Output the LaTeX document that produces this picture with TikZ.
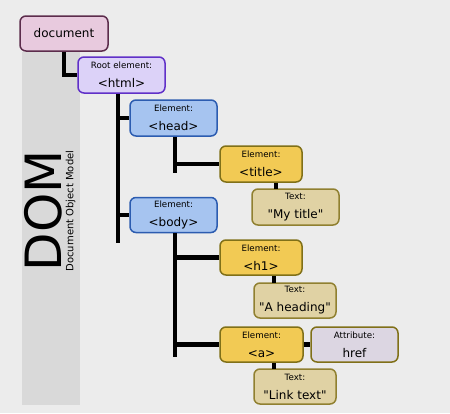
\documentclass[tikz,border=0pt]{standalone}
\usepackage{fontspec}
\setmainfont{DejaVu Sans}
\definecolor{pagebg}{RGB}{236, 236, 236}
\definecolor{bandgray}{RGB}{217, 217, 217}
\definecolor{docpink}{RGB}{232, 202, 222}
\definecolor{docedge}{RGB}{92, 44, 76}
\definecolor{rootlilac}{RGB}{220, 210, 248}
\definecolor{rootedge}{RGB}{96, 48, 200}
\definecolor{elemblue}{RGB}{166, 196, 240}
\definecolor{elemedge}{RGB}{44, 92, 176}
\definecolor{tagyellow}{RGB}{242, 202, 84}
\definecolor{tagedge}{RGB}{128, 112, 24}
\definecolor{texttan}{RGB}{224, 210, 164}
\definecolor{textedge}{RGB}{144, 128, 48}
\definecolor{attrgray}{RGB}{220, 214, 226}
\usepackage{tikz}
\usetikzlibrary{positioning}
\newcommand{\kindlbl}[2]{{\fontsize{8.7}{9}\selectfont #1}\\[6pt]#2}
\newcommand{\qt}[1]{\textquotedbl#1\textquotedbl}

\begin{document}
\begin{tikzpicture}[x=1pt, y=-1pt,
  dombox/.style={draw, rounded corners=6pt, line width=1.5pt, minimum width=87pt, minimum height=36pt, inner sep=0pt, align=center, font=\fontsize{12}{13}\selectfont},
  link/.style={line width=4.5pt, black}]
  % Background and side band
  \fill[pagebg] (0,0) rectangle (450,413);
  \useasboundingbox (0,0) rectangle (450,413);
  \fill[bandgray] (22,52) rectangle (80,405);
  \node[rotate=90, font=\fontsize{50}{50}\selectfont, inner sep=0pt] (dom) at (43.5,210.5) {DOM};
  \node[rotate=90, font=\fontsize{10}{10}\selectfont, inner sep=0pt] (domfull) at (70.5,211) {Document Object Model};

  % Document and root
  \node[dombox, fill=docpink, draw=docedge, minimum width=88pt, minimum height=35pt] (doc) at (64,33.5) {document};
  \node[dombox, fill=rootlilac, draw=rootedge] (html) at (121.5,75) {\kindlbl{Root element:}{<html>}};

  % Head branch
  \node[dombox, fill=elemblue, draw=elemedge] (head) at (173.5,118) {\kindlbl{Element:}{<head>}};
  \node[dombox, fill=tagyellow, draw=tagedge, minimum width=82pt] (title) at (261,164) {\kindlbl{Element:}{<title>}};
  \node[dombox, fill=texttan, draw=textedge] (mytitle) at (295.5,207) {\kindlbl{Text:}{\qt{My title}}};

  % Body branch
  \node[dombox, fill=elemblue, draw=elemedge, minimum height=35pt] (body) at (173.5,215) {\kindlbl{Element:}{<body>}};
  \node[dombox, fill=tagyellow, draw=tagedge, minimum width=82pt, minimum height=35pt] (h1) at (261,257.5) {\kindlbl{Element:}{<h1>}};
  \node[dombox, fill=texttan, draw=textedge, minimum width=82pt, minimum height=35pt] (heading) at (295,300.5) {\kindlbl{Text:}{\qt{A heading}}};
  \node[dombox, fill=tagyellow, draw=tagedge, minimum width=83pt, minimum height=35pt] (anchor) at (261.5,344.5) {\kindlbl{Element:}{<a>}};
  \node[dombox, fill=attrgray, draw=tagedge, minimum height=35pt] (href) at (354.5,344.5) {\kindlbl{Attribute:}{href}};
  \node[dombox, fill=texttan, draw=textedge, minimum width=82pt, minimum height=35pt] (linktext) at (295,386.5) {\kindlbl{Text:}{\qt{Link text}}};

  % Trunk ends
  \coordinate (htmlend) at (118,243);
  \coordinate (headend) at (175,173);
  \coordinate (bodyend) at (175,357);
  \coordinate (titlestub) at (276,189);
  \coordinate (h1stub) at (274,283);
  \coordinate (astub) at (274,369);

  % Connectors
  \draw[link] (doc) |- (html);
  \draw[link] (html.south -| htmlend) -- (htmlend);
  \draw[link] (head.west -| htmlend) -- (head.west);
  \draw[link] (body.west -| htmlend) -- (body.west);
  \draw[link] (head.south -| headend) -- (headend);
  \draw[link] (title.west -| headend) -- (title.west);
  \draw[link] (titlestub) -- (titlestub |- title.south);
  \draw[link] (body.south -| bodyend) -- (bodyend);
  \draw[link] (h1.west -| bodyend) -- (h1.west);
  \draw[link] (anchor.west -| bodyend) -- (anchor.west);
  \draw[link] (h1stub) -- (h1stub |- h1.south);
  \draw[link] (astub) -- (astub |- anchor.south);
  \draw[link] (anchor) -- (href);
\end{tikzpicture}
\end{document}
